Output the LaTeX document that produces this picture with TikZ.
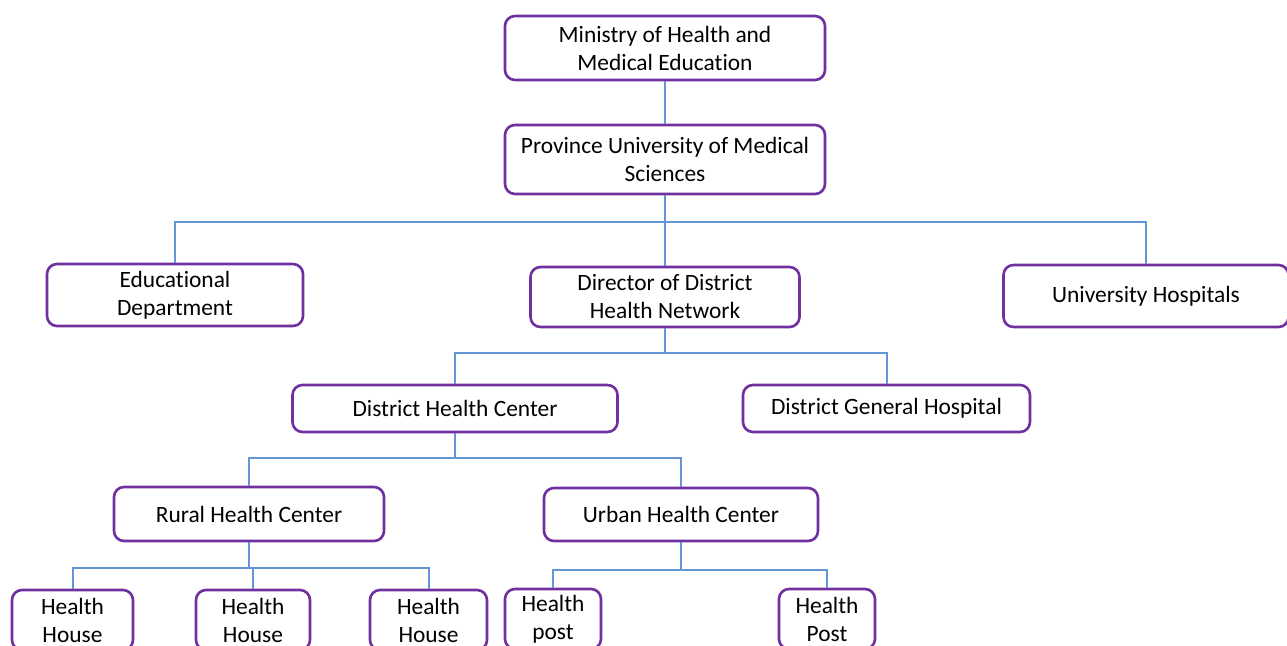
\documentclass[tikz,border=0pt]{standalone}
\usepackage{fontspec}
\setmainfont{Carlito}[Ligatures=NoCommon]
\usetikzlibrary{positioning}
\definecolor{boxpurple}{RGB}{112,48,160}
\definecolor{linkblue}{RGB}{100,150,215}
\tikzset{
unit/.style={draw=boxpurple, line width=1.3pt, rounded corners=5pt, fill=white, align=center, inner sep=0pt, font=\fontsize{11.7}{14}\selectfont}, % every box of the chart
link/.style={draw=linkblue, line width=1pt}, % the plain connectors
}

\begin{document}
\begin{tikzpicture}[x=0.5pt, y=-0.5pt]
                \useasboundingbox (0,0) rectangle (1287,645);
                % boxes, placed at pixel positions of the chart
                \node[unit, minimum width=160pt, minimum height=32pt] (ministry) at (665,48) {Ministry of Health and\\Medical Education};
                \node[unit, minimum width=160pt, minimum height=34.5pt] (province) at (665,159.5) {Province University of Medical\\Sciences};
                \node[unit, minimum width=128pt, minimum height=31pt] (edu) at (175,295) {Educational\\Department};
                \node[unit, minimum width=134.5pt, minimum height=30pt] (director) at (665,297) {Director of District\\Health Network};
                \node[unit, minimum width=142.5pt, minimum height=31pt] (unihosp) at (1146,296) {University Hospitals};
                \node[unit, minimum width=162.5pt, minimum height=23.5pt] (dhc) at (455,408.5) {District Health Center};
                \node[unit, minimum width=143.5pt, minimum height=23.5pt] (dgh) at (886.5,408.5) {District General Hospital};
                \node[unit, minimum width=135pt, minimum height=27pt] (rural) at (249,514) {Rural Health Center};
                \node[unit, minimum width=137pt, minimum height=26.5pt] (urban) at (681,514.5) {Urban Health Center};
                \node[unit, minimum width=60.5pt, minimum height=30pt] (house1) at (72.5,620) {Health\\House};
                \node[unit, minimum width=57pt, minimum height=30pt] (house2) at (253,620) {Health\\House};
                \node[unit, minimum width=58.5pt, minimum height=30pt] (house3) at (428.5,620) {Health\\House};
                \node[unit, minimum width=48pt, minimum height=30pt] (post1) at (553,619) {Health\\post};
                \node[unit, minimum width=48pt, minimum height=30pt] (post2) at (827,619) {Health\\Post};

                % branching points
                \coordinate (split1) at (665,222);
                \coordinate (split2) at (665,353);
                \coordinate (split3) at (455,458);
                \coordinate (split4) at (249,568);
                \coordinate (split5) at (681,570);

                \draw[link] (ministry) -- (province);
                \draw[link] (province) -- (director);
                \draw[link] (split1) -| (edu);
                \draw[link] (split1) -| (unihosp);
                \draw[link] (director) -- (split2);
                \draw[link] (split2) -| (dhc);
                \draw[link] (split2) -| (dgh);
                \draw[link] (dhc) -- (split3);
                \draw[link] (split3) -| (rural);
                \draw[link] (split3) -| (urban);
                \draw[link] (rural) -- (split4);
                \draw[link] (split4) -| (house1);
                \draw[link] (split4) -| (house2);
                \draw[link] (split4) -| (house3);
                \draw[link] (urban) -- (split5);
                \draw[link] (split5) -| (post1);
                \draw[link] (split5) -| (post2);
            \end{tikzpicture}
\end{document}
